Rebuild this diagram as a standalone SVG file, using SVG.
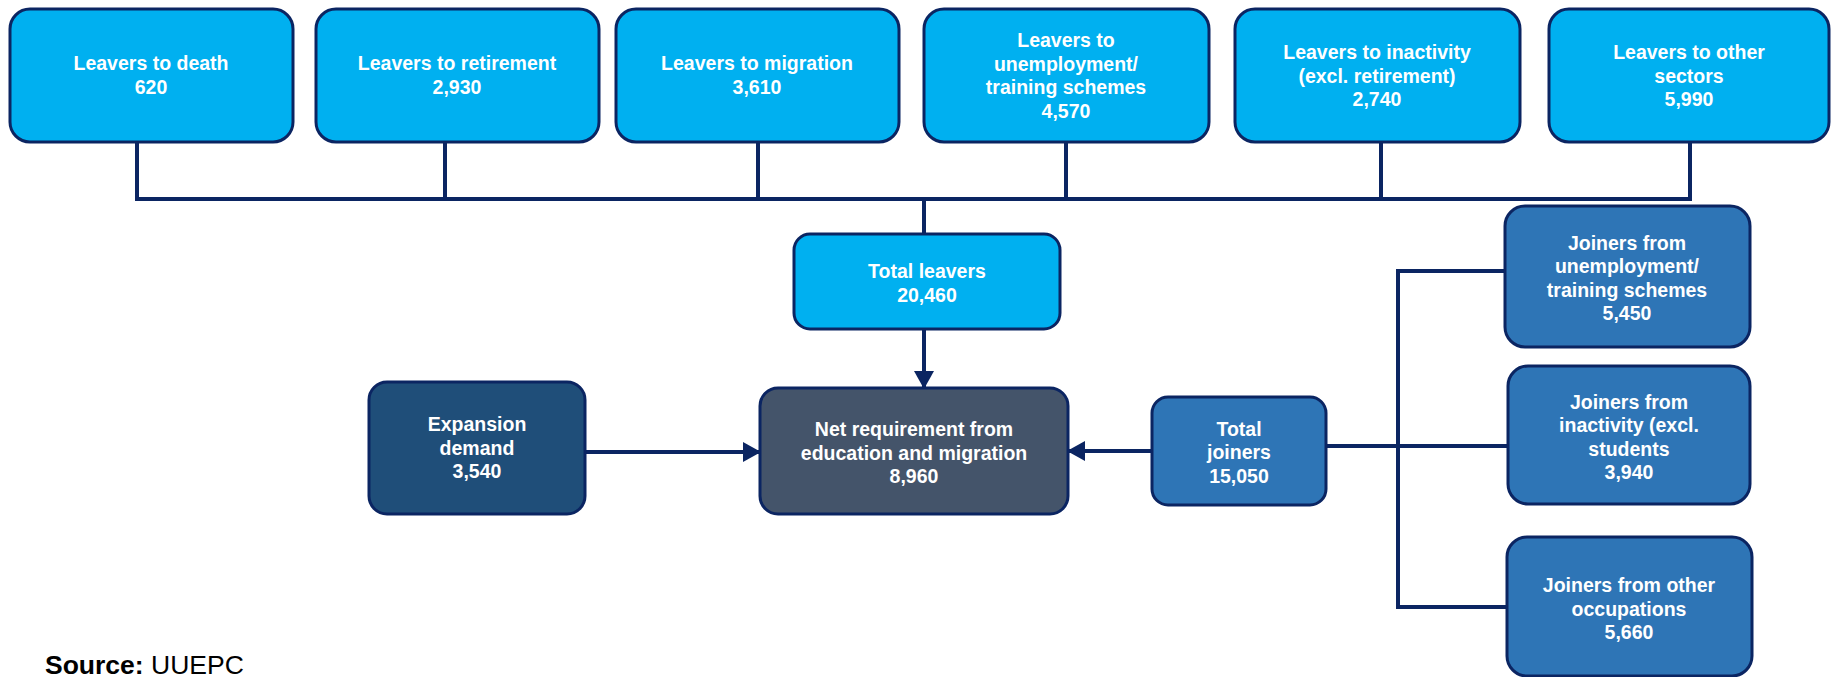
<svg xmlns="http://www.w3.org/2000/svg" width="1831" height="677" viewBox="0 0 1831 677">
<defs>
<marker id="arr" markerUnits="userSpaceOnUse" markerWidth="18" markerHeight="20" refX="17" refY="10" orient="auto">
<path d="M0,0 L18,10 L0,20 z" fill="#0b2562"/>
</marker>
<style>
.box{stroke:#0b2562;stroke-width:3}
.lb{fill:#00b0f0}
.jb{fill:#2e75b6}
.eb{fill:#1f4e79}
.nb{fill:#44546a}
.t{font-family:"Liberation Sans",Arial,sans-serif;font-weight:bold;font-size:19.5px;fill:#ffffff;text-anchor:middle}
.ln{fill:none;stroke:#0b2562;stroke-width:4}
.src{font-family:"Liberation Sans",Arial,sans-serif;font-size:26.5px;fill:#000000}
</style>
</defs>
<rect width="1831" height="677" fill="#ffffff"/>
<g id="connectors">
<path class="ln" d="M137,142 V199 M445,142 V199 M758,142 V199 M1066,142 V199 M1381,142 V199 M1690,142 V199 M135,199 H1692 M924,199 V234"/>
<path class="ln" d="M924,329 V388" marker-end="url(#arr)"/>
<path class="ln" d="M585,452 H760" marker-end="url(#arr)"/>
<path class="ln" d="M1152,451 H1068" marker-end="url(#arr)"/>
<path class="ln" d="M1326,446 H1508 M1505,271 H1398 V607 H1507"/>
</g>
<g id="n1"><rect class="box lb" x="10" y="9" width="283" height="133" rx="20"/>
<text class="t" x="151" y="70">Leavers to death</text><text class="t" x="151" y="94">620</text></g>
<g id="n2"><rect class="box lb" x="316" y="9" width="283" height="133" rx="20"/>
<text class="t" x="457" y="70">Leavers to retirement</text><text class="t" x="457" y="94">2,930</text></g>
<g id="n3"><rect class="box lb" x="616" y="9" width="283" height="133" rx="20"/>
<text class="t" x="757" y="70">Leavers to migration</text><text class="t" x="757" y="94">3,610</text></g>
<g id="n4"><rect class="box lb" x="924" y="9" width="285" height="133" rx="20"/>
<text class="t" x="1066" y="47">Leavers to</text><text class="t" x="1066" y="70.5">unemployment/</text><text class="t" x="1066" y="94">training schemes</text><text class="t" x="1066" y="117.5">4,570</text></g>
<g id="n5"><rect class="box lb" x="1235" y="9" width="285" height="133" rx="20"/>
<text class="t" x="1377" y="59">Leavers to inactivity</text><text class="t" x="1377" y="82.5">(excl. retirement)</text><text class="t" x="1377" y="106">2,740</text></g>
<g id="n6"><rect class="box lb" x="1549" y="9" width="280" height="133" rx="20"/>
<text class="t" x="1689" y="59">Leavers to other</text><text class="t" x="1689" y="82.5">sectors</text><text class="t" x="1689" y="106">5,990</text></g>
<g id="total-leavers"><rect class="box lb" x="794" y="234" width="266" height="95" rx="16"/>
<text class="t" x="927" y="278">Total leavers</text><text class="t" x="927" y="302">20,460</text></g>
<g id="net"><rect class="box nb" x="760" y="388" width="308" height="126" rx="18"/>
<text class="t" x="914" y="436">Net requirement from</text><text class="t" x="914" y="459.5">education and migration</text><text class="t" x="914" y="483">8,960</text></g>
<g id="expansion"><rect class="box eb" x="369" y="382" width="216" height="132" rx="18"/>
<text class="t" x="477" y="431">Expansion</text><text class="t" x="477" y="454.5">demand</text><text class="t" x="477" y="478">3,540</text></g>
<g id="total-joiners"><rect class="box jb" x="1152" y="397" width="174" height="108" rx="16"/>
<text class="t" x="1239" y="435.5">Total</text><text class="t" x="1239" y="459">joiners</text><text class="t" x="1239" y="482.5">15,050</text></g>
<g id="j1"><rect class="box jb" x="1505" y="206" width="245" height="141" rx="20"/>
<text class="t" x="1627" y="249.5">Joiners from</text><text class="t" x="1627" y="273">unemployment/</text><text class="t" x="1627" y="296.5">training schemes</text><text class="t" x="1627" y="320">5,450</text></g>
<g id="j2"><rect class="box jb" x="1508" y="366" width="242" height="138" rx="20"/>
<text class="t" x="1629" y="408.5">Joiners from</text><text class="t" x="1629" y="432">inactivity (excl.</text><text class="t" x="1629" y="455.5">students</text><text class="t" x="1629" y="479">3,940</text></g>
<g id="j3"><rect class="box jb" x="1507" y="537" width="245" height="139" rx="20"/>
<text class="t" x="1629" y="592">Joiners from other</text><text class="t" x="1629" y="615.5">occupations</text><text class="t" x="1629" y="639">5,660</text></g>
<text class="src" x="45" y="674"><tspan font-weight="bold">Source:</tspan> UUEPC</text>
</svg>
